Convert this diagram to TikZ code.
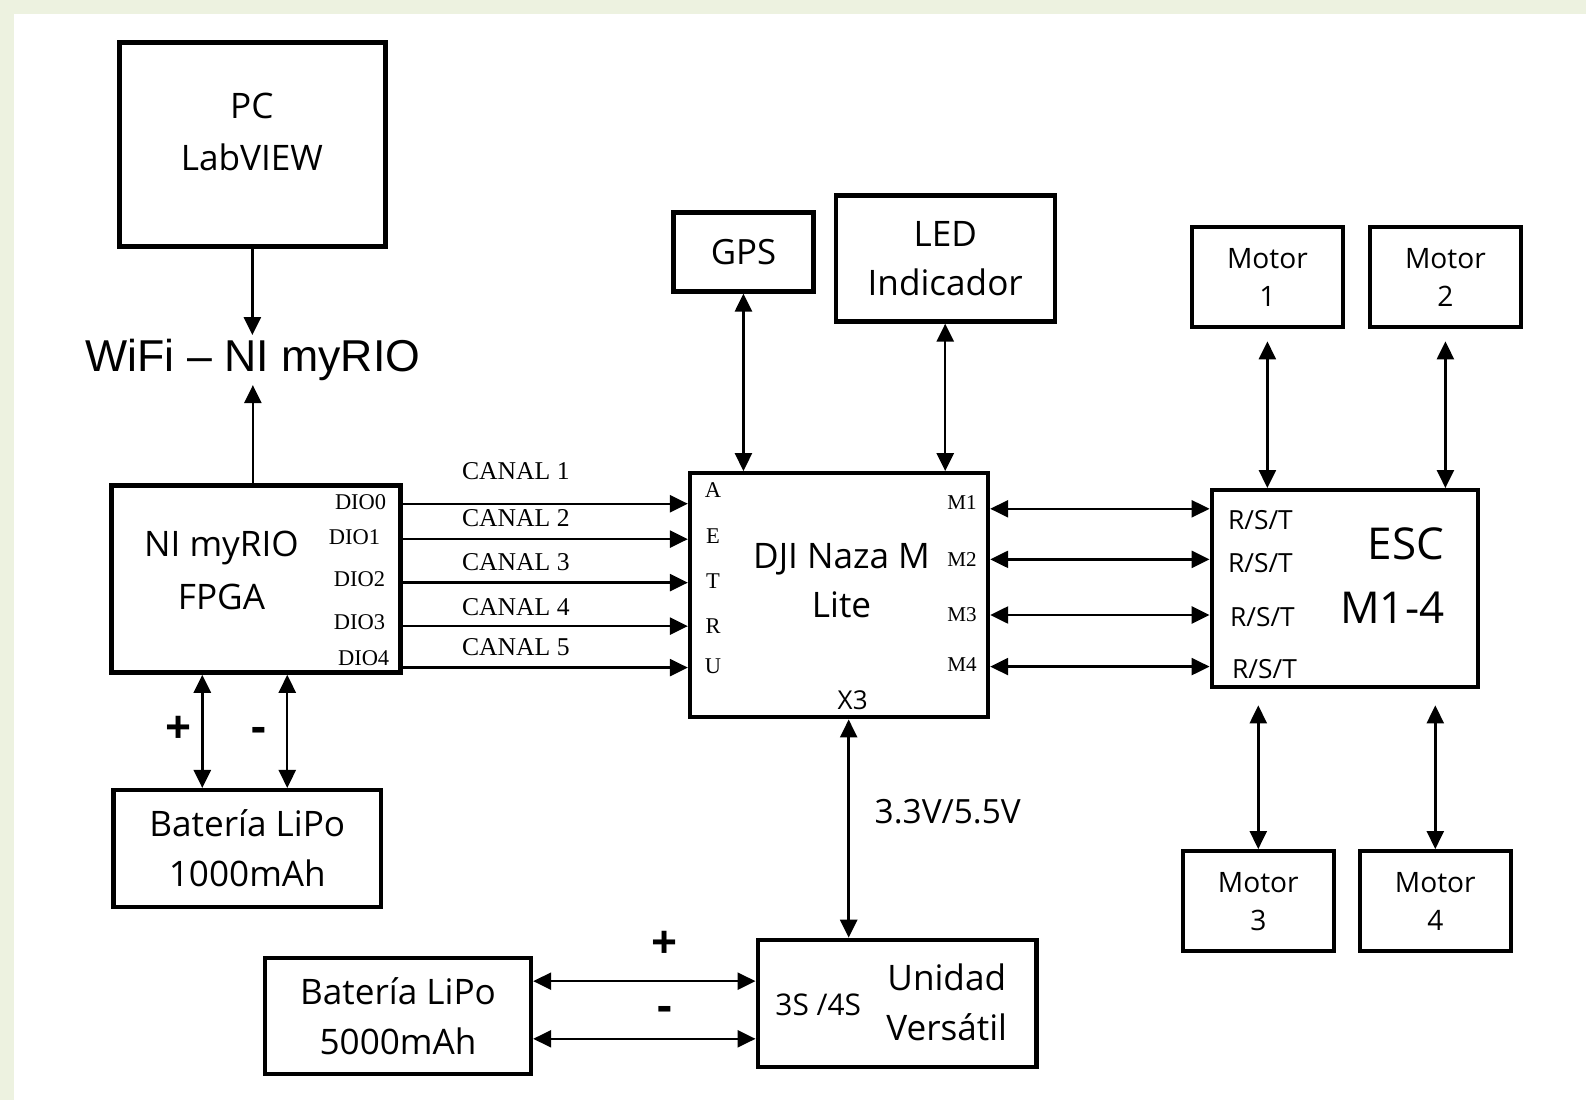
\documentclass[tikz,border=0pt]{standalone}
\usepackage{fontspec}
\setmainfont{Open Sans}
\newfontfamily\serifpin{Liberation Serif}
\newfontfamily\arialtxt{Liberation Sans}
\usetikzlibrary{positioning,arrows.meta,calc}
\definecolor{slidegreen}{RGB}{237,242,224}
\newcommand{\fsz}[2]{\fontsize{#1}{#2}\selectfont}

\begin{document}
\begin{tikzpicture}[x=0.010115cm, y=-0.010115cm,
    >={Triangle[length=0.18cm,width=0.17cm]},
    every node/.style={align=center, inner sep=1pt},
    box/.style={draw, line width=1.25pt},
    wire/.style={line width=0.7pt},
    pinlbl/.style={font=\serifpin\fsz{6.4}{8}},
    canal/.style={font=\serifpin\fsz{7.3}{9}},
    pm/.style={font=\bfseries\fsz{13}{15}}]

  % slide background
  \fill[slidegreen] (0,0) rectangle (1568,1087);
  \fill[white] (14,14) rectangle (1568,1087);
  \useasboundingbox (0,0) rectangle (1568,1087);

  % left column
  \node[box, minimum width=2.66cm, minimum height=2.04cm] (pc) at (249.5,143) {};
  \node[font=\fsz{10}{14.8}] (pctxt) at (249,130) {PC\\LabVIEW};
  \node[font=\arialtxt\fsz{12.7}{14}] (wifi) at (250,356) {WiFi – NI myRIO};

  \node[box, minimum width=2.89cm, minimum height=1.87cm] (myrio) at (253,572.5) {};
  \node[font=\fsz{10}{15}] (myriotxt) at (219,564) {NI myRIO\\FPGA};

  \node[box, font=\fsz{10}{14.2}, minimum width=2.68cm, minimum height=1.17cm]
      (bat1) at (244.5,839) {Batería LiPo\\1000mAh};
  \node[box, font=\fsz{10}{14.2}, minimum width=2.66cm, minimum height=1.16cm]
      (bat2) at (393.5,1004.5) {Batería LiPo\\5000mAh};

  % flight controller and its peripherals
  \node[box, minimum width=2.98cm, minimum height=2.44cm] (naza) at (829.5,588.5) {};
  \node[font=\fsz{10}{14.2}] (nazatxt) at (832,574) {DJI Naza M\\Lite};
  \node[font=\fsz{7.4}{9}] (x3) at (843,692) {X3};

  \node[box, font=\fsz{9.9}{12}, minimum width=1.40cm, minimum height=0.79cm]
      (gps) at (735,249) {GPS};
  \node[box, font=\fsz{10}{13.8}, minimum width=2.19cm, minimum height=1.26cm]
      (led) at (934.5,255.5) {LED\\Indicador};

  \node[box, minimum width=2.79cm, minimum height=1.27cm] (unid) at (887,992) {};
  \node[font=\fsz{10}{14.2}] (unidtxt) at (936,991) {Unidad\\Versátil};
  \node[font=\fsz{8.5}{10}] (cells) at (809,993) {3S /4S};

  % ESC and motors
  \node[box, minimum width=2.66cm, minimum height=1.97cm] (esc) at (1329.5,582) {};
  \node[font=\fsz{12.5}{18.2}, align=right, anchor=east] (esctxt) at (1432,569) {ESC\\M1-4};

  \foreach \n/\x/\y in {1/1253/274, 2/1429/274, 3/1244/891, 4/1419/891}
    \node[box, font=\fsz{8}{10.8}, minimum width=1.51cm, minimum height=1.0cm]
        (mot\n) at (\x,\y) {Motor\\\n};

  % pin labels
  \foreach \p/\y in {A/484, E/530, T/575, R/619, U/659}
    \node[pinlbl] (pin\p) at (705,\y) {\p};
  \foreach \m/\y in {1/497, 2/553, 3/608, 4/657}
    \node[font=\serifpin\fsz{6}{8}] (pinm\m) at (951,\y) {M\m};
  \foreach \n/\x/\y in {0/386/496, 1/380/531, 2/385/573, 3/385/615, 4/389/651}
    \node[pinlbl, anchor=east] (dio\n) at (\x,\y) {DIO\n};
  \foreach \r/\x/\y in {1/1210/514, 2/1210/557, 3/1212/610, 4/1214/661}
    \node[font=\fsz{7.5}{9}, anchor=west] (rst\r) at (\x,\y) {R/S/T};

  % channels
  \foreach \i/\ay/\cy in {1/498/466, 2/533/512, 3/576/556, 4/619/600, 5/660/640} {
    \draw[wire,->] (myrio.east |- 0,\ay) -- (naza.west |- 0,\ay);
    \node[canal] (canal\i) at (510,\cy) {CANAL \i};
  }
  \foreach \y in {503, 553, 608, 659}
    \draw[wire,<->] (naza.east |- 0,\y) -- (esc.west |- 0,\y);

  % vertical links
  \draw[wire,->] (pc.south) -- (pc.south |- wifi.north);
  \draw[wire,->] (myrio.north -| wifi.south) -- (wifi.south);
  \draw[wire,<->] (gps.south) -- (gps.south |- naza.north);
  \draw[wire,<->] (led.south) -- (led.south |- naza.north);
  \draw[wire,<->] ([xshift=-0.04cm]x3.center |- naza.south) -- ([xshift=-0.04cm]x3.center |- unid.north);
  \node[font=\fsz{9.5}{11}] (volt) at (937,802) {3.3V/5.5V};

  \draw[wire,<->, shorten <=0.12cm] (mot1.south) -- (mot1.south |- esc.north);
  \draw[wire,<->, shorten <=0.12cm] (mot2.south) -- (mot2.south |- esc.north);
  \draw[wire,<->, shorten <=0.16cm] (mot3.north |- esc.south) -- (mot3.north);
  \draw[wire,<->, shorten <=0.16cm] (mot4.north |- esc.south) -- (mot4.north);

  % power
  \draw[wire,<->] (myrio.south -| 200,0) -- (bat1.north -| 200,0);
  \draw[wire,<->] (myrio.south -| 284,0) -- (bat1.north -| 284,0);
  \node[pm] (plus1) at (177,722) {+};
  \node[pm] (minus1) at (256,727) {-};

  \draw[wire,<->] (bat2.east |- 0,970) -- (unid.west |- 0,970);
  \draw[wire,<->] (bat2.east |- 0,1027) -- (unid.west |- 0,1027);
  \node[pm] (plus2) at (657,934) {+};
  \node[pm] (minus2) at (657,1002) {-};
\end{tikzpicture}
\end{document}
